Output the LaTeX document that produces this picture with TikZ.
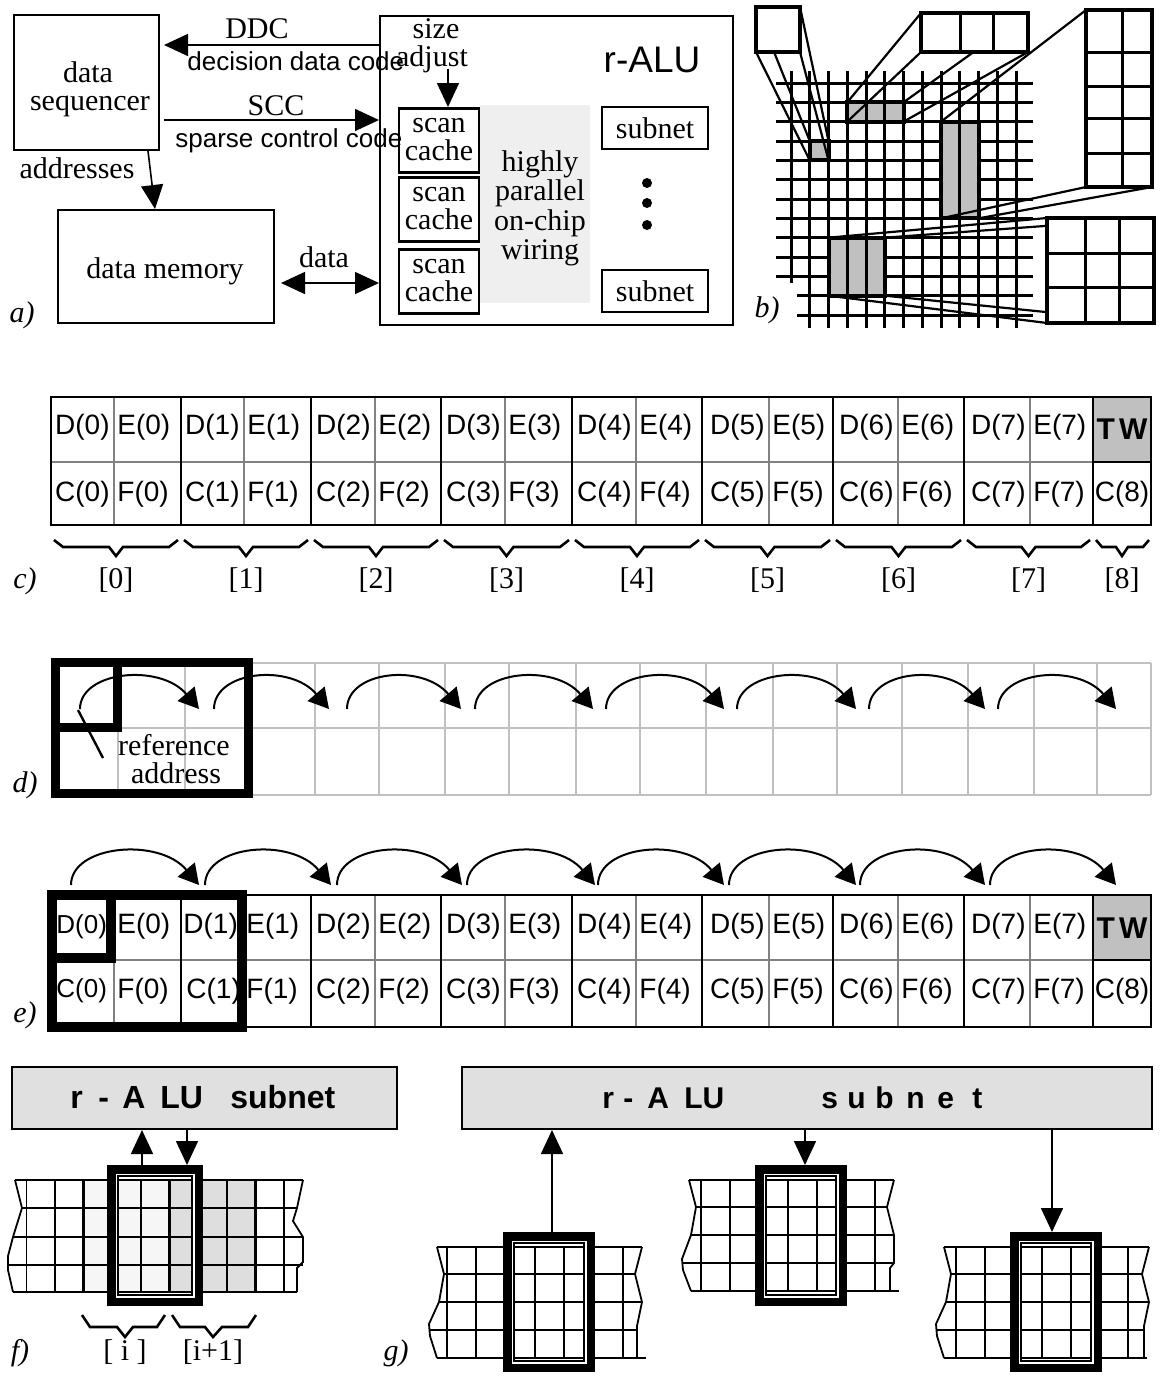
\documentclass[tikz,border=0pt]{standalone}
\usepackage{fontspec}
\setmainfont{Liberation Serif}
\setsansfont{Liberation Sans}
\usetikzlibrary{arrows.meta}
\definecolor{wiregray}{RGB}{239,239,239}
\definecolor{cellgray}{RGB}{192,192,192}
\definecolor{divgray}{RGB}{130,130,130}
\definecolor{gridgray}{RGB}{192,192,192}
\definecolor{subgray}{RGB}{224,224,224}
\definecolor{shadeA}{RGB}{246,246,246}
\definecolor{shadeB}{RGB}{222,222,222}
\begin{document}
\begin{tikzpicture}[x=0.5pt,y=-0.5pt,
  serif/.style={font=\fontsize{15}{15}\selectfont, inner sep=0pt, anchor=base},
  sanslbl/.style={font=\sffamily\fontsize{13}{13}\selectfont, inner sep=0pt, anchor=base west},
  celltxt/.style={font=\sffamily\fontsize{14}{14}\selectfont, inner sep=0pt},
  partlbl/.style={font=\itshape\fontsize{15}{15}\selectfont, inner sep=0pt, anchor=base},
  box/.style={draw, line width=1pt, inner sep=0pt},
  arr/.style={line width=0.8pt, -{Triangle[length=12pt,width=11pt]}},
  darr/.style={line width=0.8pt, {Triangle[length=12pt,width=11pt]}-{Triangle[length=12pt,width=11pt]}},
  arcarr/.style={line width=1pt, -{Triangle[length=10pt,width=11pt]}},
  bgrid/.style={line width=1.5pt},
  regionb/.style={line width=2pt},
  proj/.style={line width=1.1pt},
  magb/.style={line width=2.2pt},
  magdiv/.style={line width=1.5pt},
  blackln/.style={line width=1pt},
  grayln/.style={line width=1pt, divgray},
  dgrid/.style={line width=1.3pt, gridgray},
  bracepath/.style={line width=1.3pt},
  fgrid/.style={line width=0.9pt},
  fthick/.style={line width=1.7pt},
  winframe/.style={draw, line width=6pt, inner sep=0pt},
  subbox/.style={draw, line width=1pt, fill=subgray, inner sep=0pt},
  subtxt/.style={font=\sffamily\bfseries\fontsize{16}{16}\selectfont, inner sep=0pt, anchor=base west},
]
\useasboundingbox (0,0) rectangle (1160,1383);

% ================= a)
\fill[wiregray] (480,105) rectangle (590,303);
\node[box, minimum width=72.5pt, minimum height=67.5pt] (seq) at (86.5,82.5) {};
\node[serif] (seqA) at (88,82) {data};
\node[serif] (seqB) at (90,110) {sequencer};
\node[box, minimum width=108pt, minimum height=56.5pt] (mem) at (166,266.5) {};
\node[serif] (memT) at (165,278) {data memory};
\node[box, minimum width=176.5pt, minimum height=154.5pt] (ralu) at (556.5,170.5) {};
\node[font=\sffamily\fontsize{18.5}{18.5}\selectfont, inner sep=0pt, anchor=base] (raluT) at (652,72) {r-ALU};
\foreach \ii/\tp in {1/107,2/176,3/248} {
  \node[box, line width=1.3pt, minimum width=40pt, minimum height=32pt, anchor=north] (sc\ii) at (439,\tp) {};
  \node[serif] (scA\ii) at (439,\tp+25) {scan};
  \node[serif] (scB\ii) at (439,\tp+53) {cache};
}
\node[serif] (w1) at (540,171) {highly};
\node[serif] (w2) at (540,200.5) {parallel};
\node[serif] (w3) at (540,230) {on-chip};
\node[serif] (w4) at (540,259.5) {wiring};
\node[box, line width=1.2pt, minimum width=53pt, minimum height=21pt] (sub1) at (655,128) {};
\node[serif] (sub1T) at (655,138) {subnet};
\node[box, line width=1.2pt, minimum width=53pt, minimum height=21pt] (sub2) at (655,291) {};
\node[serif] (sub2T) at (655,301) {subnet};
\foreach \yy in {183,203,225} \fill (647,\yy) circle[radius=2.5pt];
\coordinate (yDDC) at (0,45);
\coordinate (ySCC) at (0,120);
\coordinate (yDAT) at (0,283);
\coordinate (xSA) at (448,69);
\draw[arr, shorten >=2pt] (ralu.west |- yDDC) -- (seq.east |- yDDC);
\draw[arr, shorten <=2pt] (seq.east |- ySCC) -- (ralu.west |- ySCC);
\draw[darr, shorten <=3pt] (mem.east |- yDAT) -- (ralu.west |- yDAT);
\draw[arr] ([xshift=30.75pt]seq.south) -- ([xshift=-5.5pt]mem.north);
\draw[arr] (xSA) -- (sc1.north -| xSA);
\node[serif] (ddcT) at (257,38) {DDC};
\node[sanslbl] (ddcL) at (187,70) {decision data code};
\node[serif] (sccT) at (276,115) {SCC};
\node[sanslbl] (sccL) at (175,147) {sparse control code};
\node[serif] (addrT) at (77,178) {addresses};
\node[serif] (datT) at (324,267) {data};
\node[serif] (sizeT) at (436,38) {size};
\node[serif] (adjT) at (432,66) {adjust};
\node[partlbl] (la) at (22,322) {a)};

% ================= b)
\foreach \nm/\xa/\ya/\xb/\yb in {m1/756/7/800/52, m2/921/13/1028/52, m3/1086/10/1152/187, m4/1047/218/1154/323,
  r1/809.75/141/828.5/160.33, r2/847.25/102.33/903.5/121.67, r3/941/121.67/978.5/218.33, r4/828.5/237.67/884.75/295.67} {
  \coordinate (\nm-tl) at (\xa,\ya);
  \coordinate (\nm-tr) at (\xb,\ya);
  \coordinate (\nm-bl) at (\xa,\yb);
  \coordinate (\nm-br) at (\xb,\yb);
}
\foreach \jj in {0,...,10} \draw[bgrid] (776,83+19.333*\jj) -- (1033,83+19.333*\jj);
\foreach \jj in {11,12} \draw[bgrid] (797,83+19.333*\jj) -- (1033,83+19.333*\jj);
\foreach \nm in {r1,r2,r3,r4} \fill[cellgray] (\nm-tl) rectangle (\nm-br);
\draw[bgrid] (791,71) -- (791,283);
\foreach \ii in {1,...,12} \draw[bgrid] (791+18.75*\ii,71) -- (791+18.75*\ii,328);
\foreach \nm in {r1,r2,r3,r4} \draw[regionb] (\nm-tl) rectangle (\nm-br);
\foreach \pa/\pb in {m1-tl/r1-tl, m1-tr/r1-tr, m1-bl/r1-bl, m1-br/r1-br,
  m2-tl/r2-tl, m2-tr/r2-tr, m2-bl/r2-bl, m2-br/r2-br,
  m3-tl/r3-tl, m3-bl/r3-bl, m3-br/r3-br,
  m4-tl/r4-tl, m4-tr/r4-tr, m4-bl/r4-bl, m4-br/r4-br} \draw[proj] (\pa) -- (\pb);
\foreach \nm in {m1,m2,m3,m4} \fill[white] (\nm-tl) rectangle (\nm-br);
\draw[magdiv] (960,13) -- (960,52);
\draw[magdiv] (993.5,13) -- (993.5,52);
\draw[magdiv] (1122,10) -- (1122,187);
\foreach \yy in {52,86.5,118.5,153} \draw[magdiv] (1086,\yy) -- (1152,\yy);
\draw[magdiv] (1085,218) -- (1085,323);
\draw[magdiv] (1119,218) -- (1119,323);
\draw[magdiv] (1047,253) -- (1154,253);
\draw[magdiv] (1047,287) -- (1154,287);
\foreach \nm in {m1,m2,m3,m4} \draw[magb] (\nm-tl) rectangle (\nm-br);
\node[partlbl] (lb) at (767,317) {b)};

% ================= c)
\fill[cellgray] (1093,397) rectangle (1151,462);
\draw[grayln] (51,462) -- (1093,462);
\foreach \dv in {114,244,375,505,636,769,898,1030} \draw[grayln] (\dv,397) -- (\dv,525);
\foreach \gv in {181,311,441,572,702,833,964,1093} \draw[blackln] (\gv,397) -- (\gv,525);
\draw[blackln] (1093,462) -- (1151,462);
\draw[blackln] (51,397) rectangle (1151,525);
\foreach \kk/\gl/\dv/\gr in {0/51/114/181, 1/181/244/311, 2/311/375/441, 3/441/505/572, 4/572/636/702, 5/702/769/833, 6/833/898/964, 7/964/1030/1093} {
  \node[celltxt, anchor=east] (cD\kk) at (\dv-4,427) {D(\kk)};
  \node[celltxt, anchor=west] (cE\kk) at (\dv+3,427) {E(\kk)};
  \node[celltxt, anchor=east] (cC\kk) at (\dv-4,494) {C(\kk)};
  \node[celltxt, anchor=west] (cF\kk) at (\dv+3,494) {F(\kk)};
  \draw[bracepath] (\gl+3,540) -- (\gl+12,547) -- ({(\gl+\gr)/2-7},547) -- ({(\gl+\gr)/2},556) -- ({(\gl+\gr)/2+7},547) -- (\gr-12,547) -- (\gr-3,540);
  \node[serif] (cL\kk) at ({(\gl+\gr)/2},588) {[\kk]};
}
\node[font=\sffamily\bfseries\fontsize{15}{15}\selectfont, inner sep=0pt] (cTW) at (1122,429) {T\hspace{2pt}W};
\node[celltxt] (cC8) at (1122,494) {C(8)};
\draw[bracepath] (1096,540) -- (1102,547) -- (1116,547) -- (1122,556) -- (1128,547) -- (1143,547) -- (1149,540);
\node[serif] (cL8) at (1122,588) {[8]};
\node[partlbl] (lc) at (25,588) {c)};

% ================= d)
\foreach \yy in {663,728,795} \draw[dgrid] (55,\yy) -- (1151,\yy);
\foreach \xx in {118,185,248,315,379,445,509,576,640,706,773,837,902,968,1034,1097,1151} \draw[dgrid] (\xx,663) -- (\xx,795);
\draw[line width=4.5pt] (55,662.5) rectangle (248.5,793);
\draw[line width=4.5pt] (55,662.5) rectangle (117,727);
\node[serif] (refA) at (174,755) {reference};
\node[serif] (refB) at (176,783) {address};
\coordinate (ptrA) at (78,710);
\coordinate (ptrB) at (103,758);
\draw[line width=1.2pt] (ptrA) -- (ptrB);
\foreach \ii/\sx/\ex in {1/80/199, 2/214/329, 3/347/461, 4/475/593, 5/606/724, 6/737/856, 7/869/985, 8/998/1116} {
  \coordinate (da\ii) at (\sx,709);
  \coordinate (db\ii) at (\ex,709);
  \draw[arcarr] (da\ii) .. controls +(0,-38) and +(-39,-46) .. (db\ii);
}
\node[partlbl] (ld) at (25,792) {d)};

% ================= e)
\fill[cellgray] (1093,895) rectangle (1151,960);
\draw[grayln] (51,960) -- (1093,960);
\foreach \dv in {114,244,375,505,636,769,898,1030} \draw[grayln] (\dv,895) -- (\dv,1027);
\foreach \gv in {181,311,441,572,702,833,964,1093} \draw[blackln] (\gv,895) -- (\gv,1027);
\draw[blackln] (1093,960) -- (1151,960);
\draw[blackln] (51,895) rectangle (1151,1027);
\foreach \kk/\dv/\de in {2/375/371, 3/505/501, 4/636/632, 5/769/765, 6/898/894, 7/1030/1026} {
  \node[celltxt, anchor=east] (eD\kk) at (\de,926.5) {D(\kk)};
  \node[celltxt, anchor=west] (eE\kk) at (\dv+3,926.5) {E(\kk)};
  \node[celltxt, anchor=east] (eC\kk) at (\de,991) {C(\kk)};
  \node[celltxt, anchor=west] (eF\kk) at (\dv+3,991) {F(\kk)};
}
\node[celltxt, font=\sffamily\fontsize{13}{13}\selectfont, anchor=west] (eD0) at (56,926.5) {D(0)};
\node[celltxt, anchor=west] (eE0) at (117,926.5) {E(0)};
\node[celltxt, font=\sffamily\fontsize{13}{13}\selectfont, anchor=west] (eC0) at (56,991) {C(0)};
\node[celltxt, anchor=west] (eF0) at (117,991) {F(0)};
\node[celltxt, anchor=west] (eD1) at (183,926.5) {D(1)};
\node[celltxt, anchor=west] (eE1) at (246,926.5) {E(1)};
\node[celltxt, anchor=west] (eC1) at (186,991) {C(1)};
\node[celltxt, anchor=west] (eF1) at (246,991) {F(1)};
\node[font=\sffamily\bfseries\fontsize{15}{15}\selectfont, inner sep=0pt] (eTW) at (1122,928) {T\hspace{2pt}W};
\node[celltxt] (eC8) at (1122,991) {C(8)};
\draw[line width=5pt] (51.5,895) rectangle (241.5,1027);
\draw[line width=5pt] (51.5,895) rectangle (111,958);
\foreach \ii/\sx/\ex in {1/71/199, 2/205/331, 3/337/462, 4/467/595, 5/598/724, 6/729/856, 7/860/985, 8/990/1116} {
  \coordinate (ea\ii) at (\sx,885);
  \coordinate (eb\ii) at (\ex,885);
  \draw[arcarr] (ea\ii) .. controls +(0,-40) and +(-40,-48) .. (eb\ii);
}
\node[partlbl] (le) at (25,1022) {e)};

% ================= f)
\node[subbox, minimum width=192.5pt, minimum height=31pt] (fsub) at (204.5,1098) {};
\node[subtxt] (fsubT) at (70,1108) {\makebox[14pt][l]{r}\makebox[12pt][l]{-}\makebox[19pt][l]{A}\makebox[35pt][l]{LU}subnet};
\fill[shadeA] (83.7,1180) rectangle (169.5,1292);
\fill[shadeB] (169.5,1180) rectangle (255.3,1292);
\foreach \yy/\xa/\xb in {1180/15/303, 1208/22/297, 1237/13/303, 1265/8/303, 1292/13/297} \draw[fgrid] (\xa,\yy) -- (\xb,\yy);
\draw[fgrid] (15,1180) -- (22,1208) -- (13,1237) -- (8,1256) -- (8,1270) -- (13,1292);
\draw[fgrid] (303,1180) -- (297,1208) -- (293,1221) -- (303,1237) -- (303,1262) -- (297,1268) -- (297,1292);
\foreach \kk in {0,1,3,4,6,7,9} \draw[fgrid] (26.5+28.6*\kk,1180) -- (26.5+28.6*\kk,1292);
\foreach \kk in {2,5,8} \draw[fthick] (26.5+28.6*\kk,1180) -- (26.5+28.6*\kk,1292);
\node[winframe, minimum width=42pt, minimum height=64.5pt] (fwin) at (155,1235.5) {};
\draw[white, line width=0.75pt] ([shift={(9.25,9.25)}]fwin.north west) rectangle ([shift={(-9.25,-9.25)}]fwin.south east);
\coordinate (fupx) at (142,0);
\coordinate (fdnx) at (187,0);
\draw[arr] (fwin.north -| fupx) -- (fsub.south -| fupx);
\draw[arr] (fsub.south -| fdnx) -- (fwin.north -| fdnx);
\draw[bracepath] (82,1315) -- (90,1327) -- (117,1327) -- (125,1337) -- (133,1327) -- (157,1327) -- (165,1315);
\draw[bracepath] (172,1315) -- (180,1327) -- (205,1327) -- (213,1337) -- (222,1327) -- (248,1327) -- (256,1315);
\node[serif] (fLi) at (125,1360) {[ i ]};
\node[serif] (fLj) at (213,1360) {[i+1]};
\node[partlbl] (lf) at (20,1360) {f)};
\node[partlbl] (lg) at (396,1360) {g)};

% ================= g)
\node[subbox, minimum width=345pt, minimum height=31pt] (gsub) at (807,1098) {};
\node[subtxt, font=\sffamily\bfseries\fontsize{15}{15}\selectfont] (gsubT) at (602,1108) {\makebox[10.5pt][l]{r}\makebox[12pt][l]{-}\makebox[18.5pt][l]{A}\makebox[68.5pt][l]{LU}\makebox[13pt][l]{s}\makebox[14pt][l]{u}\makebox[15.5pt][l]{b}\makebox[15.5pt][l]{n}\makebox[17.5pt][l]{e}t};
% piece 1
\foreach \yy/\xa/\xb in {1247/437/642, 1274/444/635, 1302/439/642, 1330/430/637, 1358/437/646} \draw[fgrid] (\xa,\yy) -- (\xb,\yy);
\draw[fgrid] (437,1247) -- (444,1274) -- (439,1302) -- (429,1324) -- (430,1336) -- (437,1358);
\draw[fgrid] (642,1247) -- (635,1274) -- (642,1302) -- (637,1326) -- (637,1358);
\foreach \xx in {447,476.3,505.6,534.9,564.2,593.5,622.8} \draw[fgrid] (\xx,1247) -- (\xx,1358);
\node[winframe, minimum width=40pt, minimum height=64pt] (gw1) at (549,1302) {};
\draw[white, line width=0.75pt] ([shift={(9.25,9.25)}]gw1.north west) rectangle ([shift={(-9.25,-9.25)}]gw1.south east);
% piece 2
\foreach \yy/\xa/\xb in {1180/689/894, 1207/696/887, 1235/691/894, 1263/682/894, 1291/691/899} \draw[fgrid] (\xa,\yy) -- (\xb,\yy);
\draw[fgrid] (689,1180) -- (696,1207) -- (691,1235) -- (682,1259) -- (683,1270) -- (691,1291);
\draw[fgrid] (894,1180) -- (887,1207) -- (894,1235) -- (894,1263) -- (890,1268) -- (890,1291);
\foreach \xx in {701,730,759,788,817,846,875} \draw[fgrid] (\xx,1180) -- (\xx,1291);
\node[winframe, minimum width=40pt, minimum height=64.5pt] (gw2) at (801,1235.5) {};
\draw[white, line width=0.75pt] ([shift={(9.25,9.25)}]gw2.north west) rectangle ([shift={(-9.25,-9.25)}]gw2.south east);
% piece 3
\foreach \yy/\xa/\xb in {1247/944/1149, 1274/951/1142, 1302/946/1149, 1330/937/1144, 1358/944/1147} \draw[fgrid] (\xa,\yy) -- (\xb,\yy);
\draw[fgrid] (944,1247) -- (951,1274) -- (946,1302) -- (936,1324) -- (937,1336) -- (944,1358);
\draw[fgrid] (1149,1247) -- (1142,1274) -- (1149,1302) -- (1144,1326) -- (1144,1358);
\foreach \xx in {956,984.7,1013.4,1042.1,1070.8,1099.5,1128.2} \draw[fgrid] (\xx,1247) -- (\xx,1358);
\node[winframe, minimum width=40pt, minimum height=64pt] (gw3) at (1056,1302) {};
\draw[white, line width=0.75pt] ([shift={(9.25,9.25)}]gw3.north west) rectangle ([shift={(-9.25,-9.25)}]gw3.south east);
\coordinate (g1x) at (552,0);
\coordinate (g2x) at (805,0);
\coordinate (g3x) at (1052,0);
\draw[arr] (gw1.north -| g1x) -- (gsub.south -| g1x);
\draw[arr] (gsub.south -| g2x) -- (gw2.north -| g2x);
\draw[arr] (gsub.south -| g3x) -- (gw3.north -| g3x);
\end{tikzpicture}
\end{document}
